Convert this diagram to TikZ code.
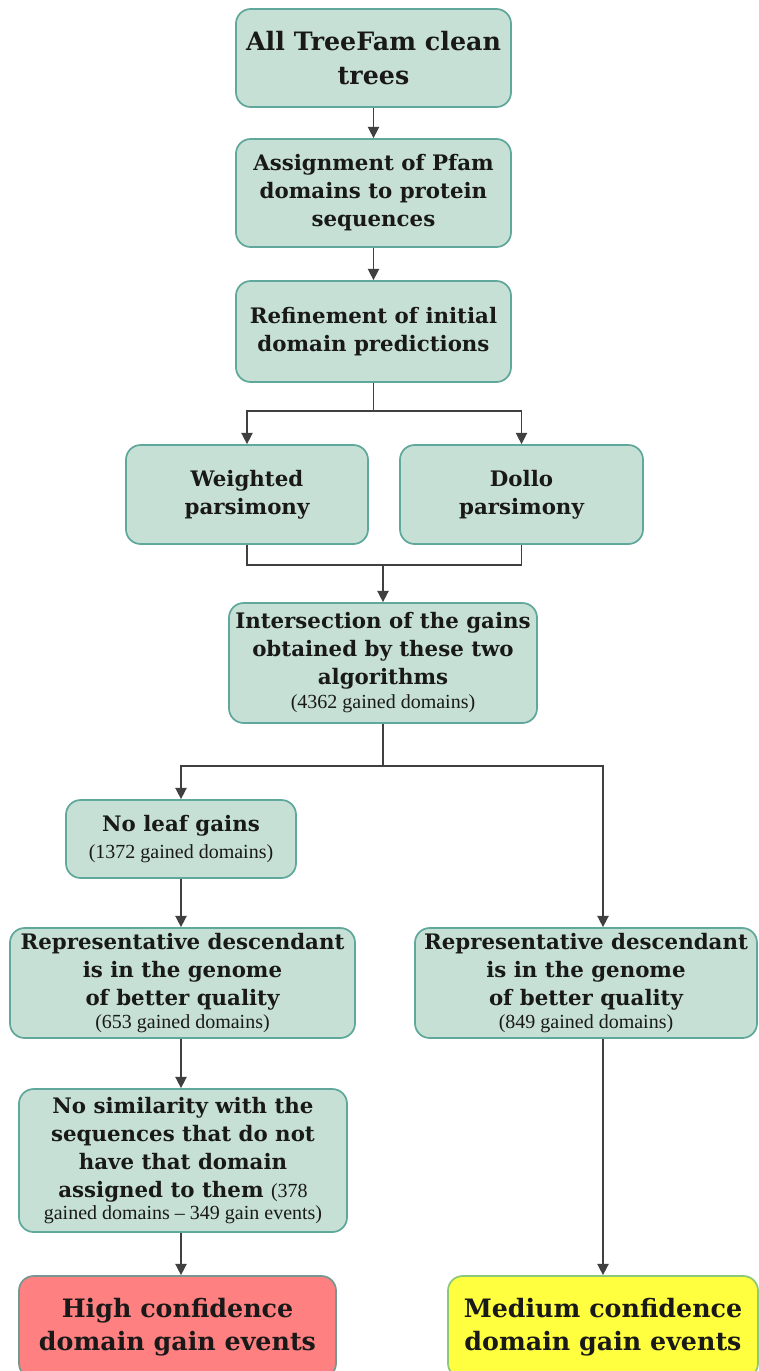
\documentclass[tikz,border=0pt]{standalone}
\usepackage{fontspec}
\setmainfont{DejaVu Serif}
\newfontfamily\notefont{Liberation Serif}
\usetikzlibrary{arrows.meta,positioning}

\definecolor{boxfill}{RGB}{199,224,214}
\definecolor{boxline}{RGB}{96,168,155}
\definecolor{highfill}{RGB}{255,128,128}
\definecolor{highline}{RGB}{120,150,145}
\definecolor{medfill}{RGB}{255,255,64}
\definecolor{medline}{RGB}{140,200,120}
\definecolor{linegray}{RGB}{64,64,64}

\tikzset{
  boxsize/.style 2 args={minimum width=#1*0.75pt, minimum height=#2*0.75pt},
  flowbox/.style={draw=boxline, fill=boxfill, line width=1.3pt, rounded corners=11pt,
    align=center, inner sep=0pt, text=black!90, font=\fontsize{16}{21}\selectfont\bfseries},
  bigbox/.style={flowbox, font=\fontsize{19}{25}\selectfont\bfseries},
  highbox/.style={bigbox, fill=highfill, draw=highline},
  medbox/.style={bigbox, fill=medfill, draw=medline},
  plain/.style={draw=linegray, line width=1.1pt},
  link/.style={plain, -{Triangle[length=8.5pt,width=8.5pt]}}
}
\newcommand{\gained}[1]{{\notefont\mdseries\fontsize{15}{16}\selectfont #1}}

\begin{document}
\begin{tikzpicture}[x=0.75pt,y=0.75pt,yscale=-1,xscale=1]
\useasboundingbox (0,0) rectangle (758,1371);

% Boxes
\node [bigbox, boxsize={275}{98}] (title) at (373.5,58) {All TreeFam clean\\trees};
\node [flowbox, boxsize={275}{108}] (assign) at (373.5,193) {Assignment of Pfam\\domains to protein\\sequences};
\node [flowbox, boxsize={275}{101}] (refine) at (373.5,331.5) {Refinement of initial\\domain predictions};
\node [flowbox, boxsize={242}{99}] (weighted) at (247,494.5) {Weighted\\parsimony};
\node [flowbox, boxsize={243}{99}] (dollo) at (521.5,494.5) {Dollo\\parsimony};
\node [flowbox, boxsize={308}{120}] (inter) at (383,663) {Intersection of the gains\\obtained by these two\\algorithms\\[-3pt]\gained{(4362 gained domains)}};
\node [flowbox, boxsize={230}{78}] (noleaf) at (181,839) {No leaf gains\\[-1pt]\gained{(1372 gained domains)}};
\node [flowbox, boxsize={345}{110}] (rep1) at (182.5,983) {Representative descendant\\is in the genome\\of better quality\\[-4pt]\gained{(653 gained domains)}};
\node [flowbox, boxsize={342}{110}] (rep2) at (586,983) {Representative descendant\\is in the genome\\of better quality\\[-4pt]\gained{(849 gained domains)}};
\node [flowbox, boxsize={328}{143}] (nosim) at (183,1160.5) {No similarity with the\\sequences that do not\\have that domain\\assigned to them \gained{(378}\\[-4pt]\gained{gained domains – 349 gain events)}};
\node [highbox, boxsize={317}{102}] (high) at (177.5,1327) {High confidence\\domain gain events};
\node [medbox, boxsize={310}{102}] (medium) at (603,1327) {Medium confidence\\domain gain events};

% Connectors
\draw [link] (title) -- (assign);
\draw [link] (assign) -- (refine);
\draw [plain] (refine.south) -- ++(0,28) coordinate (fork1);
\draw [link] (fork1) -| (weighted.north);
\draw [link] (fork1) -| (dollo.north);
\coordinate (join1) at (inter.north |- 0,565);
\draw [plain] (weighted.south) |- (join1) -| (dollo.south);
\draw [link] (join1) -- (inter.north);
\draw [plain] (inter.south) -- ++(0,42) coordinate (fork2);
\draw [link] (fork2) -| (noleaf.north);
\draw [link] (fork2) -| (rep2.north -| medium.north);
\draw [link] (noleaf.south) -- (noleaf.south |- rep1.north);
\draw [link] (rep1.south -| noleaf.south) -- (noleaf.south |- nosim.north);
\draw [link] (nosim.south -| noleaf.south) -- (noleaf.south |- high.north);
\draw [link] (rep2.south -| medium.north) -- (medium.north);

\end{tikzpicture}
\end{document}
